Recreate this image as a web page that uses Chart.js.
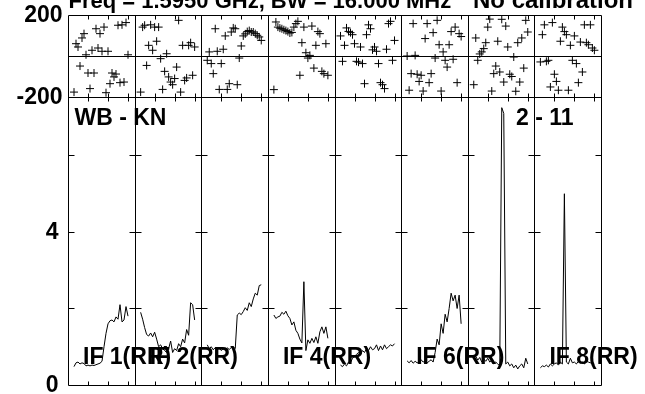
<!DOCTYPE html>
<html>
<head>
<meta charset="utf-8">
<script src="https://cdn.jsdelivr.net/npm/chart.js@4"></script>
<style>
  html, body { margin: 0; padding: 0; background: #fff; }
  #wrap { width: 645px; height: 394px; }
</style>
</head>
<body>
<div id="wrap"><canvas id="possm"></canvas></div>
<script>
// channels plotted in every IF panel
const channels = [3, 4, 5, 6, 7, 8, 9, 10, 11, 12, 13, 14, 15, 16, 17, 18, 19, 20, 21, 22, 23, 24, 25, 26, 27, 28, 29, 30];
const PANEL = 33.3125; // channel width of one IF panel
const ifLabels = ['IF 1(RR)', 'IF 2(RR)', '', 'IF 4(RR)', '', 'IF 6(RR)', '', 'IF 8(RR)'];

// phase (degrees)
const phaseIF1 = [-176, 60, 44, -49, 88, 109, 6, -83, -159, 28, -83, 133, 39, 109, 23, 141, -179, 23, -135, -83, -102, -88, 150, -130, 152, -127, 163, 6];
const phaseIF2 = [-176, 141, 150, -46, 52, 152, 28, 141, 72, 141, -13, -163, -75, 11, -102, -127, -140, -110, -54, 174, -176, 52, -119, -107, 52, 65, -94, 44];
const phaseIF3 = [-21, 20, -37, -86, 133, 23, -163, -37, 33, 98, -163, -135, 117, 137, 133, -140, -10, 49, 98, 108, 119, 124, 117, 117, 109, 101, 93, 76];
const phaseIF4 = [-164, 166, 141, 136, 133, 128, 124, 119, 112, 115, 141, 158, 169, -94, 65, 141, 16, -10, 3, 146, -59, 52, 119, 109, -75, -86, 60, -94];
const phaseIF5 = [98, -26, 52, 137, 120, 114, 104, 60, -26, -30, 44, -37, -135, 104, 152, 133, 30, 44, 23, -37, -130, -140, -159, 33, 158, 169, -21, 76];
const phaseIF6 = [0, -167, -86, 158, 3, -89, -124, -94, -171, 85, 158, -130, -86, 114, -10, 174, 55, -171, 20, -21, -54, 55, 119, -16, 141, -130, 109, 95];
const phaseIF7 = [-140, 88, -21, 10, 20, 36, 65, 141, 180, -171, -86, -49, 72, -78, 179, -127, 146, 44, -89, -100, -5, -172, 65, -127, 88, -59, 174, 117];
const phaseIF8 = [-29, 104, 152, -26, -21, -151, 163, -89, -124, -167, 72, 141, 119, 104, -167, 52, -21, 98, -37, -130, 68, -78, 152, 65, 55, 152, 39, 28];

// amplitude
const ampIF1 = [0.48, 0.58, 0.6, 0.55, 0.58, 0.56, 0.5, 0.52, 0.5, 0.52, 0.51, 0.53, 0.55, 0.57, 0.62, 1.0, 1.35, 1.6, 1.68, 1.7, 1.65, 1.78, 1.72, 2.1, 1.65, 1.7, 2.05, 1.8];
const ampIF2 = [1.9, 1.72, 1.5, 1.32, 1.28, 1.36, 1.26, 1.38, 1.2, 1.0, 1.05, 0.95, 0.9, 0.85, 0.95, 1.15, 0.85, 0.95, 0.9, 1.08, 1.0, 1.2, 1.1, 1.45, 1.3, 2.15, 2.1, 1.7];
const ampIF3 = [1.05, 0.95, 1.0, 0.92, 0.98, 0.93, 0.97, 0.9, 0.95, 0.92, 0.97, 0.93, 0.98, 1.0, 0.95, 1.83, 1.88, 1.84, 1.92, 2.02, 1.95, 2.15, 2.05, 2.25, 2.4, 2.35, 2.6, 2.62];
const ampIF4 = [1.83, 1.74, 1.78, 1.8, 1.9, 1.85, 1.93, 1.81, 1.74, 1.57, 1.65, 1.43, 1.35, 1.2, 1.1, 2.7, 0.9, 1.18, 1.09, 1.22, 1.11, 1.26, 1.09, 1.39, 1.52, 1.35, 1.52, 1.22];
const ampIF5 = [0.52, 0.48, 0.55, 0.5, 0.6, 0.58, 0.7, 0.75, 0.8, 0.85, 0.8, 0.9, 0.85, 0.95, 0.9, 1.0, 0.92, 0.95, 1.05, 0.9, 1.02, 0.92, 1.05, 0.95, 1.0, 1.05, 1.02, 1.08];
const ampIF6 = [0.63, 0.58, 0.64, 0.57, 0.62, 0.58, 0.6, 0.66, 0.6, 0.63, 0.58, 0.62, 0.66, 0.6, 0.85, 1.2, 1.05, 1.6, 1.35, 1.85, 1.65, 2.0, 2.4, 2.2, 2.35, 2.0, 2.35, 1.6];
const ampIF7 = [0.7, 0.75, 0.65, 0.72, 0.6, 0.68, 0.62, 0.7, 0.6, 0.65, 0.55, 0.6, 0.55, 0.5, 7.25, 7.1, 0.55, 0.6, 0.5, 0.55, 0.45, 0.52, 0.42, 0.5, 0.55, 0.45, 0.7, 0.55];
const ampIF8 = [0.45, 0.5, 0.48, 0.52, 0.47, 0.55, 0.5, 0.55, 0.58, 0.52, 0.6, 0.55, 5.0, 0.6, 0.55, 0.7, 0.58, 0.6, 0.55, 0.62, 0.58, 0.6, 0.55, 0.62, 0.6, 0.58, 0.6, 0.55];

const phaseTicks = [200, -200];
const ampTicks = [0, 4];
const ampMinor = [2, 4, 6];
const chanTicks = [10, 20, 30];

const phaseData = [phaseIF1, phaseIF2, phaseIF3, phaseIF4, phaseIF5, phaseIF6, phaseIF7, phaseIF8];
const ampData = [ampIF1, ampIF2, ampIF3, ampIF4, ampIF5, ampIF6, ampIF7, ampIF8];

const FONT = 'bold 23px "Liberation Sans", Arial, sans-serif';

const datasets = [];
ampData.forEach(function (arr, i) {
  datasets.push({
    type: 'line',
    yAxisID: 'ya',
    data: arr.map(function (v, k) { return { x: i * PANEL + channels[k], y: v }; }),
    borderColor: '#000',
    borderWidth: 1,
    pointRadius: 0,
    tension: 0,
    fill: false
  });
});
phaseData.forEach(function (arr, i) {
  datasets.push({
    type: 'scatter',
    yAxisID: 'yp',
    data: arr.map(function (v, k) { return { x: i * PANEL + channels[k], y: v }; }),
    pointStyle: 'cross',
    pointRadius: 4,
    borderColor: '#000',
    backgroundColor: '#000',
    borderWidth: 1,
    clip: false
  });
});

// frames, ticks and text in the AIPS style
const possmFrame = {
  id: 'possmFrame',
  afterDatasetsDraw(chart) {
    const ctx = chart.ctx;
    const x = chart.scales.x, ya = chart.scales.ya, yp = chart.scales.yp;
    const r = function (v) { return Math.round(v) + 0.5; };
    const L = r(x.getPixelForValue(0)), R = r(x.getPixelForValue(8 * PANEL));
    const yTop = r(yp.getPixelForValue(200)), yMid = r(yp.getPixelForValue(0));
    const yDiv = r(yp.getPixelForValue(-200)), yBot = r(ya.getPixelForValue(0));
    ctx.save();
    ctx.strokeStyle = '#000';
    ctx.lineWidth = 1;
    ctx.beginPath();
    ctx.rect(L, yTop, R - L, yBot - yTop);
    ctx.moveTo(L, yDiv); ctx.lineTo(R, yDiv);
    ctx.moveTo(L, yMid); ctx.lineTo(R, yMid);
    for (let i = 1; i < 8; i++) {
      const px = r(x.getPixelForValue(i * PANEL));
      ctx.moveTo(px, yTop); ctx.lineTo(px, yBot);
    }
    for (let i = 0; i < 8; i++) {
      chanTicks.forEach(function (c) {
        const px = r(x.getPixelForValue(i * PANEL + c));
        ctx.moveTo(px, yTop); ctx.lineTo(px, yTop + 4);
        ctx.moveTo(px, yDiv - 4); ctx.lineTo(px, yDiv + 4);
        ctx.moveTo(px, yBot); ctx.lineTo(px, yBot - 4);
      });
    }
    for (let i = 0; i <= 8; i++) {
      const px = r(x.getPixelForValue(i * PANEL));
      ampMinor.forEach(function (a) {
        const py = r(ya.getPixelForValue(a));
        ctx.moveTo(i === 0 ? px : px - 6, py);
        ctx.lineTo(i === 8 ? px : px + 6, py);
      });
    }
    ctx.stroke();

    ctx.fillStyle = '#000';
    ctx.font = FONT;
    ctx.textBaseline = 'middle';
    ctx.textAlign = 'right';
    phaseTicks.forEach(function (t) {
      ctx.fillText(String(t), L - 6, yp.getPixelForValue(t) + 1);
    });
    ampTicks.forEach(function (t) {
      ctx.fillText(String(t), L - 10, ya.getPixelForValue(t) + 1);
    });

    ctx.textBaseline = 'alphabetic';
    ctx.textAlign = 'left';
    ctx.font = 'bold 22px "Liberation Sans", Arial, sans-serif';
    ctx.fillText('Freq = 1.5950 GHz, BW = 16.000 MHz', L, 8);
    ctx.font = 'bold 24px "Liberation Sans", Arial, sans-serif';
    ctx.fillText('No calibration', 473, 8);
    ctx.font = FONT;
    ctx.fillText('WB - KN', L + 6, 125);
    ctx.textAlign = 'right';
    ctx.fillText('2 - 11', R - 28, 125);
    ctx.textAlign = 'left';
    ifLabels.forEach(function (t, i) {
      if (t) ctx.fillText(t, x.getPixelForValue(i * PANEL + 7.5), 364);
    });
    ctx.restore();
  }
};

new Chart(document.getElementById('possm'), {
  data: { datasets: datasets },
  options: {
    responsive: true,
    maintainAspectRatio: false,
    animation: false,
    events: [],
    layout: { padding: { left: 68, right: 44, top: 15, bottom: 9 } },
    plugins: { legend: { display: false }, tooltip: { enabled: false } },
    scales: {
      x: { type: 'linear', min: 0, max: 8 * PANEL, display: false },
      ya: { type: 'linear', min: 0, max: 9.673, display: false },
      yp: { type: 'linear', min: -1604.9, max: 200, display: false }
    }
  },
  plugins: [possmFrame]
});
</script>
</body>
</html>
